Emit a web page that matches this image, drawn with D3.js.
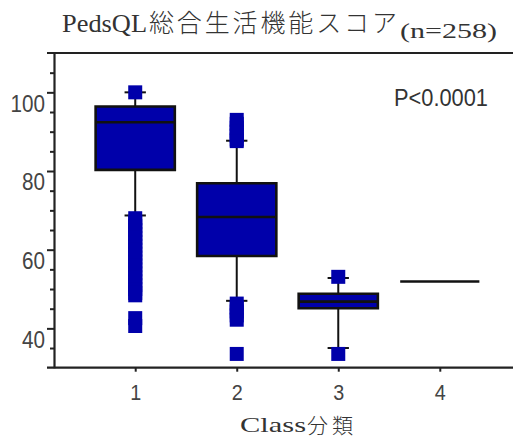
<!DOCTYPE html>
<html><head><meta charset="utf-8">
<script src="https://cdn.jsdelivr.net/npm/d3@7"></script>
<style>body{margin:0;background:#fff}svg{display:block}</style>
</head><body><svg id="c" width="513" height="441"></svg>
<script>
// ---- data ----
const categories = ["1", "2", "3", "4"];
const classValues = [1, 2, 3, 4];
const q1 = [80.3, 58.4, 45.1, 51.9];
const medians = [92.4, 68.3, 46.8, 51.9];
const q3 = [96.4, 76.9, 48.8, 51.9];
const whiskerLow = [68.7, 47.0, 35.0, null];
const whiskerHigh = [100, 87.7, 52.8, null];
const outliers1 = [100, 68, 67, 66, 65, 64, 63, 62, 61, 60, 59, 58, 57, 56, 55, 54, 53, 52, 51, 50, 49, 48.4, 42.6, 40.6];
const outliers2 = [93, 92, 91, 90, 89, 88, 87.6, 46.3, 45.3, 44.3, 43.3, 42.2, 33.5];
const outliers3 = [53.1, 33.5];
const outliers4 = [];
const yTicks = [40, 60, 80, 100];
const yMinorTicks = [35, 45, 50, 55, 65, 70, 75, 85, 90, 95, 105];
const yDomain = [30, 110];
const titleMain = "PedsQL";
const titleJa = "総合生活機能スコア";
const titleN = "(n=258)";
const xTitleLatin = "Class";
const xTitleJa = "分類";
const pText = "P<0.0001";

const outliers = [outliers1, outliers2, outliers3, outliers4];

// ---- drawing ----
const svg = d3.select("#c");
const fill = "#0000aa";
const textCol = "#333";
const x = d3.scaleLinear().domain([0.2, 4.8]).range([54, 521]);
const y = d3.scaleLinear().domain(yDomain).range([367.7, 53]);
const bw = x(2) - x(1);
const boxHalf = bw * 0.39;
const capHalf = bw * 0.105;
const sq = 14;

// frame lines (top & bottom)
svg.append("line").attr("x1", 47).attr("x2", 513).attr("y1", y(yDomain[1])).attr("y2", y(yDomain[1]))
  .attr("stroke", "#222").attr("stroke-width", 2.2);
svg.append("line").attr("x1", 47).attr("x2", 513).attr("y1", y(yDomain[0])).attr("y2", y(yDomain[0]))
  .attr("stroke", "#222").attr("stroke-width", 2.2);

// y minor ticks
const yMinor = svg.append("g").attr("transform", "translate(54,0)")
  .call(d3.axisLeft(y).tickValues(yMinorTicks).tickSize(4).tickSizeOuter(0).tickFormat(""));
yMinor.select(".domain").remove();
yMinor.selectAll("line").attr("stroke", "#222").attr("stroke-width", 2);

// y axis
const yAxis = svg.append("g").attr("transform", "translate(54,0)")
  .call(d3.axisLeft(y).tickValues(yTicks).tickSize(7).tickSizeOuter(0).tickPadding(9));
yAxis.select(".domain").attr("stroke", "#222").attr("stroke-width", 2.2);
yAxis.selectAll("line").attr("stroke", "#222").attr("stroke-width", 2);
yAxis.selectAll("text")
  .attr("font-family", "Liberation Sans, Arial, sans-serif")
  .attr("font-size", 24).attr("fill", "#444")
  .attr("dy", "0.78em").attr("x", -9)
  .attr("lengthAdjust", "spacingAndGlyphs")
  .attr("textLength", d => String(d).length * 11.5);

// x axis ticks & labels
const xAxis = svg.append("g").attr("transform", `translate(0,${y(yDomain[0])})`)
  .call(d3.axisBottom(x).tickValues(classValues).tickSize(4).tickSizeOuter(0).tickPadding(13)
    .tickFormat((d, i) => categories[i]));
xAxis.select(".domain").remove();
xAxis.selectAll("line").attr("stroke", "#222").attr("stroke-width", 2);
xAxis.selectAll("text")
  .attr("font-family", "Liberation Sans, Arial, sans-serif")
  .attr("font-size", 22).attr("fill", "#444")
  .attr("lengthAdjust", "spacingAndGlyphs").attr("textLength", 11);

// boxes
const g = svg.append("g");
classValues.forEach((c, i) => {
  const cx = x(c);
  if (whiskerLow[i] !== null) {
    g.append("line").attr("x1", cx).attr("x2", cx).attr("y1", y(q1[i])).attr("y2", y(whiskerLow[i]))
      .attr("stroke", "#111").attr("stroke-width", 2);
    g.append("line").attr("x1", cx - capHalf).attr("x2", cx + capHalf).attr("y1", y(whiskerLow[i])).attr("y2", y(whiskerLow[i]))
      .attr("stroke", "#111").attr("stroke-width", 2);
  }
  if (whiskerHigh[i] !== null) {
    g.append("line").attr("x1", cx).attr("x2", cx).attr("y1", y(q3[i])).attr("y2", y(whiskerHigh[i]))
      .attr("stroke", "#111").attr("stroke-width", 2);
    g.append("line").attr("x1", cx - capHalf).attr("x2", cx + capHalf).attr("y1", y(whiskerHigh[i])).attr("y2", y(whiskerHigh[i]))
      .attr("stroke", "#111").attr("stroke-width", 2);
  }
  const x0 = cx - boxHalf, x1 = cx + boxHalf;
  const yt = y(q3[i]), yb = y(q1[i]);
  if (yb - yt > 0.5) {
    g.append("path").attr("d", `M${x0},${yt}H${x1}V${yb}H${x0}Z`)
      .attr("fill", fill).attr("stroke", "#111").attr("stroke-width", 2.6);
    g.append("line").attr("x1", x0).attr("x2", x1).attr("y1", y(medians[i])).attr("y2", y(medians[i]))
      .attr("stroke", "#111").attr("stroke-width", 2.6);
  } else {
    g.append("line").attr("x1", x0).attr("x2", x1).attr("y1", y(medians[i])).attr("y2", y(medians[i]))
      .attr("stroke", "#111").attr("stroke-width", 2.4);
  }
  g.selectAll(null).data(outliers[i]).enter().append("rect")
    .attr("x", cx - sq / 2).attr("y", d => y(d) - sq / 2)
    .attr("width", sq).attr("height", sq)
    .attr("fill", fill);
});

// title
svg.append("text").attr("x", 62).attr("y", 32)
  .attr("font-family", "Liberation Serif, serif").attr("font-size", 26).attr("fill", textCol)
  .attr("lengthAdjust", "spacingAndGlyphs").attr("textLength", 85).text(titleMain);
svg.append("text").attr("x", 149).attr("y", 32)
  .attr("font-family", "Noto Sans CJK JP, sans-serif").attr("font-weight", 300).attr("font-size", 25).attr("fill", textCol)
  .attr("lengthAdjust", "spacing").attr("textLength", 248).text(titleJa);
svg.append("text").attr("x", 400).attr("y", 38)
  .attr("font-family", "Liberation Serif, serif").attr("font-size", 21).attr("fill", textCol)
  .attr("lengthAdjust", "spacingAndGlyphs").attr("textLength", 97).text(titleN);

// x axis title
svg.append("text").attr("x", 240).attr("y", 432)
  .attr("font-family", "Liberation Serif, serif").attr("font-size", 22).attr("fill", textCol)
  .attr("lengthAdjust", "spacingAndGlyphs").attr("textLength", 66).text(xTitleLatin);
svg.append("text").attr("x", 307).attr("y", 433)
  .attr("font-family", "Noto Sans CJK JP, sans-serif").attr("font-weight", 300).attr("font-size", 21).attr("fill", textCol)
  .attr("lengthAdjust", "spacing").attr("textLength", 46).text(xTitleJa);

// p-value
svg.append("text").attr("x", 394).attr("y", 106)
  .attr("font-family", "Liberation Sans, Arial, sans-serif").attr("font-size", 23).attr("fill", textCol)
  .attr("lengthAdjust", "spacingAndGlyphs").attr("textLength", 94).text(pText);
</script>
</body></html>
